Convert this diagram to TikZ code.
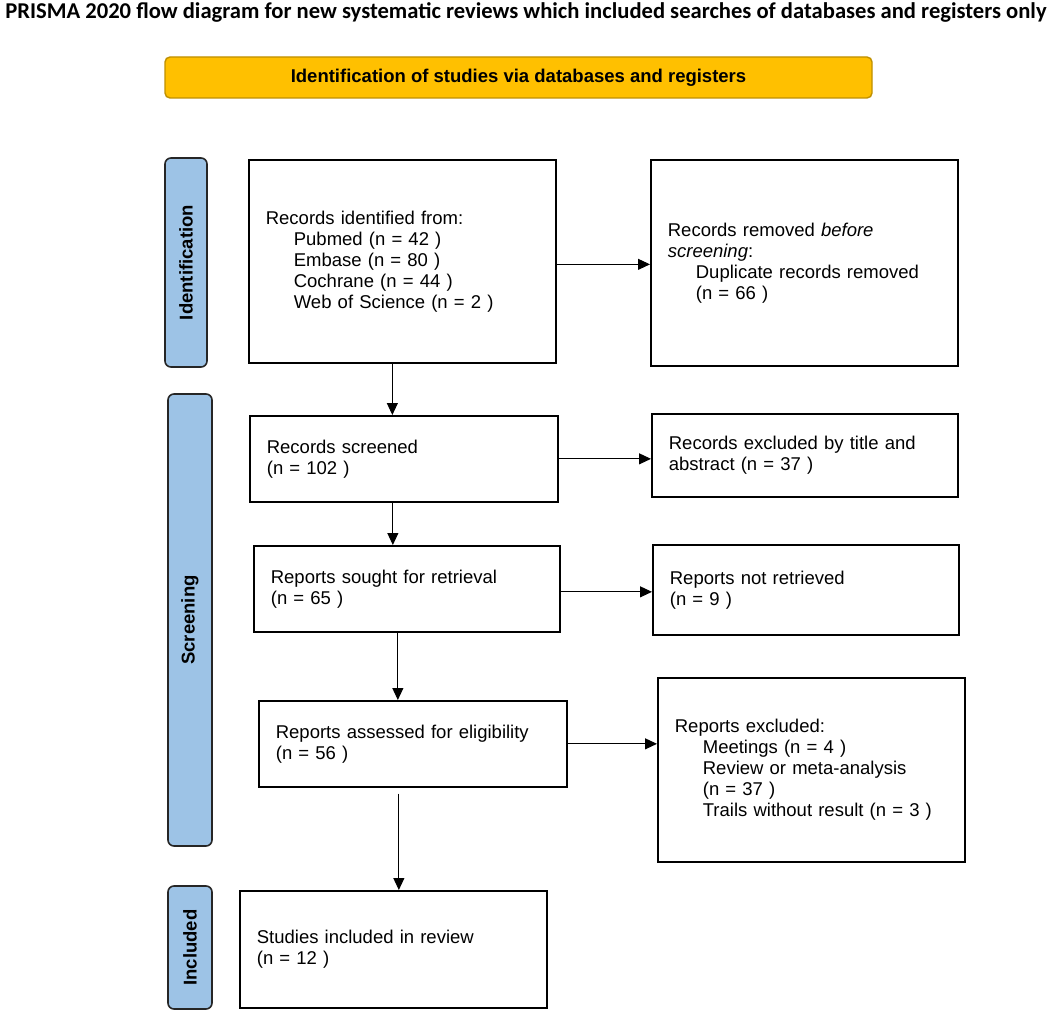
\documentclass[tikz,border=0pt]{standalone}
\usepackage{fontspec}
\setmainfont{Liberation Sans}
\newfontfamily\titlefont{Carlito}
\usetikzlibrary{arrows.meta}
\definecolor{prismayellow}{HTML}{FFC000}
\definecolor{prismagold}{HTML}{BF9000}
\definecolor{prismablue}{HTML}{9DC3E6}
\definecolor{prismaedge}{HTML}{262626}
\tikzset{
  box/.style={draw=black, line width=1.7pt, anchor=north west, align=left,
    inner xsep=17pt, inner ysep=0pt, font=\fontsize{18.5}{21}\selectfont},
  phase/.style={draw=prismaedge, fill=prismablue, line width=1.6pt, rounded corners=6pt,
    rotate=90, inner sep=0pt, font=\bfseries\fontsize{18.5}{21}\selectfont},
  arr/.style={draw=black, line width=1pt, -{Triangle[length=12pt,width=11pt]}},
}
\newcommand{\ind}{\hspace*{28pt}}
\begin{document}
\begin{tikzpicture}[x=1pt,y=-1pt]
\useasboundingbox (0,0) rectangle (1052,1016);
\fill[white] (0,0) rectangle (1052,1016);

\node[font=\titlefont\bfseries\fontsize{22.6}{26}\selectfont, anchor=base, inner sep=0pt] (title) at (526,18.5)
  {PRISMA 2020 flow diagram for new systematic reviews which included searches of databases and registers only};

\node[draw=prismagold, fill=prismayellow, line width=1.4pt, rounded corners=5pt,
  minimum width=707pt, minimum height=41pt, inner sep=0pt,
  font=\bfseries\fontsize{18.5}{21}\selectfont] (head) at (518.5,77.5)
  {Identification of studies via databases and registers};

\node[phase, minimum width=209pt, minimum height=42pt] (idl) at (186,262.5) {Identification};
\node[phase, minimum width=452pt, minimum height=44pt] (scl) at (190,620) {Screening};
\node[phase, minimum width=123pt, minimum height=44pt] (inl) at (190,947.5) {Included};

\node[box, text width=273pt, minimum height=203pt] (rid) at (248,159)
  {Records identified from:\\ \ind Pubmed (n = 42 )\\ \ind Embase (n = 80 )\\ \ind Cochrane (n = 44 )\\ \ind Web of Science (n = 2 )};
\node[box, text width=273pt, minimum height=206pt] (rrem) at (650,159)
  {Records removed \textit{before}\\ \textit{screening}:\\ \ind Duplicate records removed\\ \ind (n = 66 )};
\node[box, text width=274pt, minimum height=86pt] (rscr) at (249,415)
  {Records screened\\ (n = 102 )};
\node[box, text width=272pt, minimum height=83pt] (rexc) at (651,413)
  {Records excluded by title and\\ abstract (n = 37 )};
\node[box, text width=272pt, minimum height=86pt] (rsought) at (253,545)
  {Reports sought for retrieval\\ (n = 65 )};
\node[box, text width=272pt, minimum height=90pt] (rnot) at (652,544)
  {Reports not retrieved\\ (n = 9 )};
\node[box, text width=274pt, minimum height=86pt] (rass) at (258,700)
  {Reports assessed for eligibility\\ (n = 56 )};
\node[box, text width=273pt, minimum height=184pt] (rexcl) at (657,677)
  {Reports excluded:\\ \ind Meetings (n = 4 )\\ \ind Review or meta-analysis\\ \ind (n = 37 )\\ \ind Trails without result (n = 3 )};
\node[box, text width=273pt, minimum height=117pt] (stud) at (239,890)
  {Studies included in review\\ (n = 12 )};

\draw[arr] ([xshift=-10pt]rid.south) -- ([xshift=-10pt]rid.south |- rscr.north);
\draw[arr] ([yshift=-1.5pt]rid.east |- rrem.west) -- ([yshift=-1.5pt]rrem.west);
\draw[arr] (rscr.east) -- (rscr.east -| rexc.west);
\draw[arr] ([xshift=-11pt]rscr.south) -- ([xshift=-11pt]rscr.south |- rsought.north);
\draw[arr] ([yshift=-3pt]rsought.east) -- ([yshift=-3pt]rsought.east -| rnot.west);
\draw[arr] ([xshift=-9pt]rsought.south) -- ([xshift=-9pt]rsought.south |- rass.north);
\draw[arr] (rass.east) -- (rass.east -| rexcl.west);
\draw[arr] ([xshift=-14pt,yshift=-6pt]rass.south) -- ([xshift=-14pt]rass.south |- stud.north);
\end{tikzpicture}
\end{document}
